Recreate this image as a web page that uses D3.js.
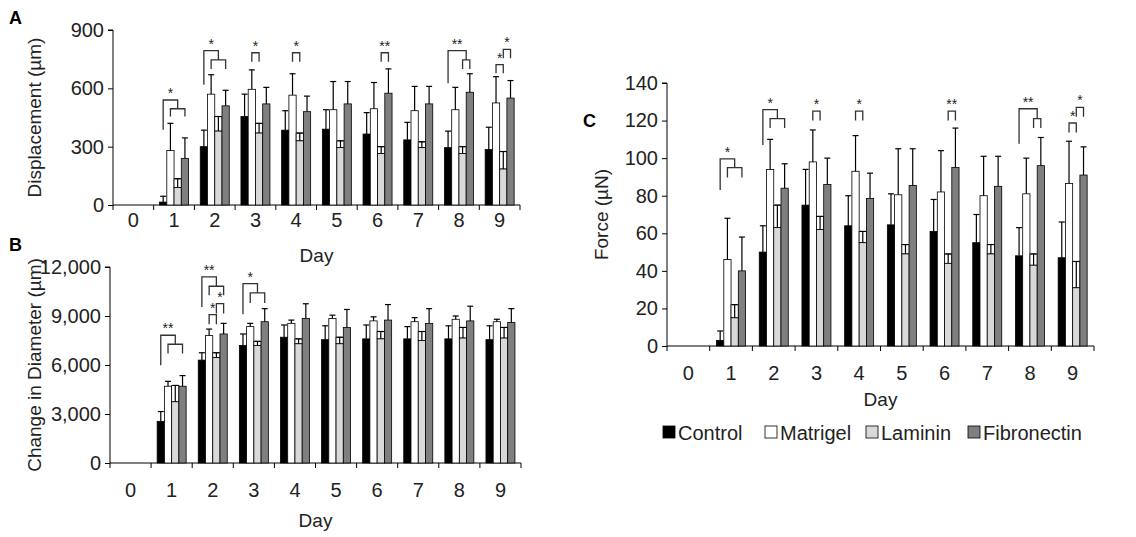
<!DOCTYPE html>
<html><head><meta charset="utf-8">
<script src="https://cdn.jsdelivr.net/npm/d3@7"></script>
<style>body{margin:0;background:#fff}text{font-family:"Liberation Sans",Arial,sans-serif}</style>
</head><body><svg id="c" width="1136" height="537"></svg>
<script>
const days = ["0","1","2","3","4","5","6","7","8","9"];
const series = ["Control","Matrigel","Laminin","Fibronectin"];
const colors = ["#000000","#ffffff","#d9d9d9","#7f7f7f"];

// Panel A: Displacement (µm), days 0..9
const dispControl = [0,15,300,455,385,390,365,335,295,285];
const dispControlTop = [0,45,385,570,485,490,475,425,380,400];
const dispMatrigel = [0,280,570,595,565,490,495,485,490,525];
const dispMatrigelTop = [0,420,670,695,675,635,630,610,605,660];
const dispLaminin = [0,90,380,370,330,295,265,295,265,185];
const dispLamininTop = [0,135,455,420,370,330,300,325,300,275];
const dispFibro = [0,240,510,520,480,520,575,520,580,550];
const dispFibroTop = [0,345,590,605,560,635,700,610,675,640];
const dispTicks = [0,300,600,900];
const dispBrackets = [
 [1,0,2,540,387,495,"*"],[1,1,3,495,455,455,""],
 [2,0,2,794,618,746,"*"],[2,1,3,746,700,700,""],
 [3,1,2,783,737,737,"*"],[4,1,2,783,737,737,"*"],[6,2,3,783,737,737,"**"],
 [8,0,2.5,794,626,746,"**"],[8,2,3,746,700,700,""],
 [9,1,2,722,677,677,"*"],[9,2,3,800,755,755,"*"]];

// Panel B: Change in Diameter (µm)
const diamControl = [0,2550,6300,7200,7700,7550,7600,7600,7600,7550];
const diamControlTop = [0,3150,6750,7900,8450,8400,8450,8350,8400,8400];
const diamMatrigel = [0,4700,7800,8350,8550,8850,8700,8650,8800,8650];
const diamMatrigelTop = [0,5000,8200,8550,8750,9050,8950,8900,9000,8800];
const diamLaminin = [0,3750,6450,7200,7300,7300,7600,7500,7650,7650];
const diamLamininTop = [0,4750,6750,7450,7600,7700,8050,8050,8300,8300];
const diamFibro = [0,4700,7900,8650,8850,8300,8750,8550,8700,8600];
const diamFibroTop = [0,5350,8550,9450,9750,9400,9700,9450,9600,9450];
const diamTicks = [0,3000,6000,9000,12000];
const diamBrackets = [
 [1,0,2,7820,5990,7270,"**"],[1,1,3,7270,6700,6700,""],
 [2,0,2,11390,9550,10820,"**"],[2,1,3,10820,10270,10270,""],
 [2,1,2,9090,8500,8500,"*"],[2,2,3,9760,9150,9150,"*"],
 [3,0,2,10980,9110,10410,"*"],[3,1,3,10410,9800,9800,""]];

// Panel C: Force (µN)
const forceControl = [0,3,50,75,64,64.5,61,55,48,47];
const forceControlTop = [0,8,64,94,80,81,78,70,63,66];
const forceMatrigel = [0,46,94,98,93,80.5,82,80,81,86.5];
const forceMatrigelTop = [0,68,110,115,112,105,104,101,100,109];
const forceLaminin = [0,15,63,62,55,49,44,49,43,31];
const forceLamininTop = [0,22,75,69,61,54,49,54,49,45];
const forceFibro = [0,40,84,86,78.5,85.5,95,85,96,91];
const forceFibroTop = [0,58,97,100,92,105,116,101,111,106];
const forceTicks = [0,20,40,60,80,100,120,140];
const forceBrackets = [
 [1,0,2,99.6,83,95,"*"],[1,1,3,95,89.7,89.7,""],
 [2,0,2,125.8,107,121,"*"],[2,1,3,121,116,116,""],
 [3,1,2,125,120,120,"*"],[4,1,2,125,120,120,"*"],[6,2,3,125,120,120,"**"],
 [8,0,2.5,126.3,107.6,121,"**"],[8,2,3,121,116,116,""],
 [9,1,2,118.7,113.7,113.7,"*"],[9,2,3,127,122,122,"*"]];

const svg = d3.select("#c");

function panel(o){
  const g = svg.append("g");
  const x = d3.scaleBand().domain(days).range([o.x0,o.x1]);
  const y = d3.scaleLinear().domain([0,o.max]).range([o.y0,o.y1]);
  const sub = d3.scaleBand().domain([0,1,2,3]).range([0,29]);
  const off = (x.bandwidth()-29)/2;
  const cx = (d,i)=> x(days[d])+off+sub.bandwidth()*(i+0.5);
  const ya = g.append("g").attr("transform",`translate(${o.x0},0)`)
    .call(d3.axisLeft(y).tickValues(o.ticks).tickSize(5).tickPadding(4).tickFormat(d3.format(o.fmt)));
  ya.select(".domain").attr("d",`M-5,${o.y1}H0V${o.y0}`);
  ya.selectAll("text").attr("font-size",20).attr("fill","#222");
  const xa = g.append("g").attr("transform",`translate(0,${o.y0})`)
    .call(d3.axisBottom(x).tickSize(0).tickPadding(o.xpad));
  xa.selectAll("text").attr("font-size",20).attr("fill","#222");
  xa.select(".domain").attr("d",`M${o.x0},0H${o.x1}`);
  days.concat(["end"]).forEach((d,i)=>{
    const xx = i<days.length? x(d): o.x1;
    g.append("line").attr("x1",xx).attr("x2",xx).attr("y1",o.y0).attr("y2",o.y0+5).attr("stroke","#000");
  });
  o.data.forEach((vals,si)=>{
    const tops = o.tops[si];
    vals.forEach((v,d)=>{
      if(d===0) return;
      const bx = x(days[d])+off+sub(si);
      const c = cx(d,si);
      if(si===2){
        g.append("rect").attr("x",bx).attr("y",y(tops[d])).attr("width",sub.bandwidth()).attr("height",y(v)-y(tops[d]))
          .attr("fill","#fff").attr("stroke","#000").attr("stroke-width",0.8);
      }
      g.append("rect").attr("x",bx).attr("y",y(v)).attr("width",sub.bandwidth()).attr("height",o.y0-y(v))
        .attr("fill",colors[si]).attr("stroke","#000").attr("stroke-width",0.8);
      g.append("line").attr("x1",c).attr("x2",c).attr("y1",y(v)).attr("y2",y(tops[d])).attr("stroke","#000").attr("stroke-width",1.2);
      g.append("line").attr("x1",c-3).attr("x2",c+3).attr("y1",y(tops[d])).attr("y2",y(tops[d])).attr("stroke","#000").attr("stroke-width",1.2);
    });
  });
  o.brackets.forEach(b=>{
    const [d,i1,i2,top,l1,l2,lab]=b;
    const xa1 = cx(d,0)+ (cx(d,1)-cx(d,0))*i1;
    const xa2 = cx(d,0)+ (cx(d,1)-cx(d,0))*i2;
    g.append("path").attr("d",`M${xa1},${y(l1)}V${y(top)}H${xa2}V${y(l2)}`).attr("fill","none").attr("stroke","#333").attr("stroke-width",1.3);
    if(lab) g.append("text").attr("x",(xa1+xa2)/2).attr("y",y(top)-2).attr("text-anchor","middle").attr("font-size",14).attr("fill","#222").text(lab);
  });
  g.append("text").attr("x",(o.x0+o.x1)/2).attr("y",o.y0+o.dayDy).attr("text-anchor","middle").attr("font-size",19).attr("fill","#222").text("Day");
  g.append("text").attr("transform",`translate(${o.lx},${(o.y0+o.y1)/2}) rotate(-90)`).attr("text-anchor","middle").attr("font-size",19).attr("fill","#222").text(o.label);
  g.append("text").attr("x",o.px).attr("y",o.py).attr("font-size",18).attr("font-weight","bold").text(o.letter);
}

panel({x0:113,x1:520,y0:205,y1:30,max:900,ticks:dispTicks,fmt:"d",xpad:8,
  data:[dispControl,dispMatrigel,dispLaminin,dispFibro],tops:[dispControlTop,dispMatrigelTop,dispLamininTop,dispFibroTop],
  brackets:dispBrackets,label:"Displacement (µm)",lx:41,letter:"A",px:9,py:24,dayDy:57});
panel({x0:110,x1:521,y0:463,y1:267,max:12000,ticks:diamTicks,fmt:",",xpad:20,
  data:[diamControl,diamMatrigel,diamLaminin,diamFibro],tops:[diamControlTop,diamMatrigelTop,diamLamininTop,diamFibroTop],
  brackets:diamBrackets,label:"Change in Diameter (µm)",lx:41,letter:"B",px:9,py:251,dayDy:64});
panel({x0:667,x1:1094,y0:346,y1:83,max:140,ticks:forceTicks,fmt:"d",xpad:20,
  data:[forceControl,forceMatrigel,forceLaminin,forceFibro],tops:[forceControlTop,forceMatrigelTop,forceLamininTop,forceFibroTop],
  brackets:forceBrackets,label:"Force (µN)",lx:608,letter:"C",px:583,py:127,dayDy:60});

const lx = [663,765,866,968];
series.forEach((s,i)=>{
  svg.append("rect").attr("x",lx[i]).attr("y",426).attr("width",12).attr("height",12).attr("fill",colors[i]).attr("stroke","#000").attr("stroke-width",0.8);
  svg.append("text").attr("x",lx[i]+15).attr("y",440).attr("font-size",20).attr("fill","#222").text(s);
});
</script></body></html>
